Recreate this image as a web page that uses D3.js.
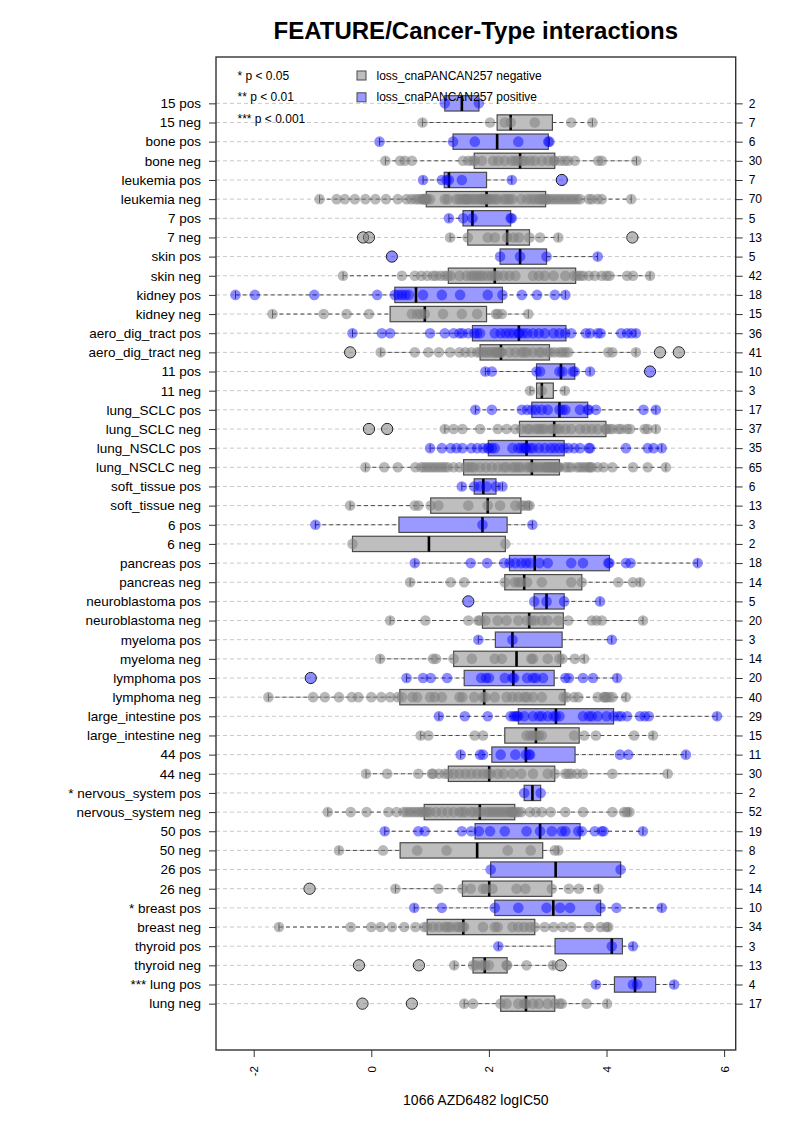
<!DOCTYPE html>
<html><head><meta charset="utf-8">
<script src="https://cdn.jsdelivr.net/npm/d3@7"></script>
<style>
body{margin:0;background:#fff}
text{font-family:"Liberation Sans",Arial,Helvetica,sans-serif}
</style>
</head><body>
<svg id="chart" width="793" height="1122"></svg>
<script>
// ---------------- data (top row first) ----------------
const rowLabels = ["15 pos","15 neg","bone pos","bone neg","leukemia pos","leukemia neg","7 pos","7 neg",
  "skin pos","skin neg","kidney pos","kidney neg","aero_dig_tract pos","aero_dig_tract neg","11 pos","11 neg",
  "lung_SCLC pos","lung_SCLC neg","lung_NSCLC pos","lung_NSCLC neg","soft_tissue pos","soft_tissue neg","6 pos","6 neg",
  "pancreas pos","pancreas neg","neuroblastoma pos","neuroblastoma neg","myeloma pos","myeloma neg","lymphoma pos","lymphoma neg",
  "large_intestine pos","large_intestine neg","44 pos","44 neg","* nervous_system pos","nervous_system neg","50 pos","50 neg",
  "26 pos","26 neg","* breast pos","breast neg","thyroid pos","thyroid neg","*** lung pos","lung neg"];

const rowCounts = [2,7,6,30,7,70,5,13,5,42,18,15,36,41,10,3,17,37,35,65,6,13,3,2,18,14,5,20,3,14,20,40,29,15,11,30,2,52,19,8,2,14,10,34,3,13,4,17];

// [lower whisker, lower hinge, median, upper hinge, upper whisker]
const boxStats = [
  [1.25,1.25,1.54,1.83,1.83],[0.87,2.14,2.37,3.08,3.76],[0.14,1.39,2.14,3.01,3.03],[0.24,1.75,2.53,3.12,4.51],
  [0.88,1.24,1.32,1.96,2.39],[-0.88,0.935,1.96,2.965,4.42],[1.32,1.56,1.72,2.37,2.39],[1.34,1.64,2.31,2.69,3.18],
  [2.19,2.19,2.53,2.98,3.85],[-0.48,1.31,2.10,3.475,4.74],[-2.31,0.40,0.76,2.23,3.30],[-1.68,0.32,0.91,1.96,2.67],
  [-0.32,1.72,2.51,3.31,4.50],[0.16,1.85,2.205,3.03,4.50],[1.94,2.81,3.225,3.46,3.72],[2.70,2.81,2.90,3.095,3.29],
  [1.77,2.73,3.20,3.68,4.84],[1.25,2.52,3.11,3.99,4.84],[1.0,1.99,2.64,3.28,4.94],[-0.10,1.57,2.73,3.20,5.01],
  [1.54,1.75,1.905,2.12,2.23],[-0.36,1.01,1.98,2.545,2.69],[-0.95,0.47,1.89,2.31,2.74],[-0.32,-0.32,0.98,2.28,2.28],
  [0.74,2.35,2.78,4.05,5.55],[0.66,2.27,2.60,3.58,4.57],[2.77,2.77,2.98,3.28,3.89],[0.32,1.89,2.685,3.265,4.62],
  [1.82,2.11,2.40,3.245,4.09],[0.15,1.40,2.47,3.22,3.62],[0.60,1.58,2.415,3.11,4.18],[-1.75,0.485,1.92,3.294,4.33],
  [1.15,2.50,3.14,4.12,5.88],[0.84,2.27,2.80,3.535,4.79],[1.52,2.05,2.63,3.465,5.35],[-0.09,1.31,2.005,3.12,5.04],
  [2.60,2.60,2.74,2.88,2.88],[-0.74,0.90,1.845,2.44,4.39],[0.23,1.765,2.87,3.55,4.62],[-0.55,0.49,1.80,2.915,3.18],
  [2.03,2.03,3.135,4.24,4.24],[0.41,1.55,2.005,3.07,3.86],[0.73,2.1,3.095,3.9,4.94],[-1.57,0.95,1.565,2.78,4.03],
  [2.16,3.125,4.09,4.27,4.45],[1.41,1.73,1.93,2.31,3.09],[3.82,4.135,4.485,4.835,5.15],[1.58,2.2,2.63,3.12,4.01]
];

const rowPoints = [
  [1.25,1.83],
  [0.87,2.02,2.27,2.37,2.78,3.40,3.76],
  [0.14,1.39,1.76,2.50,3.01,3.03],
  [0.24,0.49,0.57,0.69,1.56,1.65,1.72,1.76,1.88,2.07,2.16,2.27,2.39,2.45,2.5,2.56,2.61,2.7,2.78,2.9,3.01,3.1,3.12,3.21,3.29,3.35,3.46,3.86,3.92,4.51],
  [0.88,1.20,1.28,1.32,1.54,2.39,3.24],
  [-0.88,-0.59,-0.45,-0.28,-0.1,0.07,0.25,0.45,0.6,0.68,0.75,0.8,0.85,0.88,0.9,0.92,0.93,0.95,1.0,1.25,1.3,1.45,1.5,1.55,1.6,1.62,1.65,1.7,1.75,1.8,1.85,1.88,1.9,1.93,1.95,1.98,2.0,2.05,2.1,2.15,2.25,2.3,2.35,2.4,2.55,2.65,2.72,2.78,2.85,2.88,2.92,2.95,2.98,3.0,3.05,3.1,3.15,3.2,3.25,3.3,3.35,3.4,3.45,3.5,3.55,3.7,3.75,3.85,3.92,4.42],
  [1.32,1.56,1.72,2.37,2.39],
  [-0.14,-0.04,1.34,1.64,1.98,2.1,2.31,2.42,2.51,2.69,2.87,3.18,4.44],
  [0.35,2.19,2.53,2.98,3.85],
  [-0.48,0.52,0.74,0.85,0.95,1.05,1.1,1.18,1.25,1.3,1.35,1.5,1.62,1.7,1.75,1.8,1.85,1.9,1.98,2.05,2.1,2.15,2.25,2.35,2.45,2.75,2.85,2.95,3.1,3.3,3.45,3.5,3.55,3.6,3.7,3.8,3.92,4.0,4.05,4.35,4.45,4.74],
  [-2.31,-1.98,-0.97,0.10,0.40,0.46,0.52,0.58,0.64,0.88,1.20,1.51,1.98,2.23,2.56,2.82,3.12,3.30],
  [-1.68,-0.81,-0.42,-0.04,0.69,0.78,0.84,0.91,1.22,1.54,1.80,2.12,2.15,2.22,2.67],
  [-0.32,0.18,0.32,1.0,1.25,1.4,1.5,1.55,1.65,1.75,1.8,1.85,2.1,2.2,2.28,2.35,2.42,2.5,2.52,2.58,2.65,2.75,2.85,2.95,3.1,3.2,3.3,3.4,3.65,3.72,3.85,3.9,4.25,4.35,4.42,4.5],
  [-0.36,0.16,0.74,0.97,1.15,1.34,1.5,1.6,1.7,1.8,1.85,1.9,1.95,2.0,2.05,2.1,2.12,2.15,2.18,2.2,2.22,2.35,2.45,2.55,2.6,2.65,2.75,2.85,2.9,3.0,3.05,3.12,3.2,3.25,3.3,3.35,4.03,4.1,4.5,4.91,5.23],
  [1.94,2.05,2.81,2.87,3.2,3.25,3.43,3.46,3.72,4.74],
  [2.70,2.90,3.29],
  [1.77,2.05,2.56,2.65,2.73,2.8,2.9,3.0,3.2,3.25,3.3,3.55,3.68,3.7,3.82,4.63,4.84],
  [-0.04,0.27,1.25,1.4,1.55,1.85,2.15,2.3,2.45,2.55,2.65,2.7,2.8,2.85,2.9,2.95,3.05,3.1,3.15,3.2,3.3,3.4,3.55,3.65,3.75,3.85,3.98,4.0,4.05,4.1,4.2,4.25,4.35,4.4,4.65,4.7,4.84],
  [1.0,1.2,1.35,1.45,1.55,1.7,1.8,1.9,1.98,2.0,2.05,2.1,2.4,2.5,2.55,2.6,2.62,2.64,2.7,2.75,2.85,2.95,3.05,3.12,3.2,3.28,3.35,3.45,3.55,3.7,3.72,4.33,4.7,4.8,4.94],
  [-0.1,0.22,0.45,0.75,0.85,0.9,0.95,1.0,1.05,1.1,1.15,1.2,1.25,1.3,1.4,1.5,1.6,1.65,1.7,1.75,1.85,1.95,2.05,2.15,2.25,2.3,2.4,2.45,2.5,2.55,2.65,2.7,2.73,2.75,2.8,2.85,2.9,2.95,2.98,3.0,3.03,3.05,3.08,3.1,3.12,3.14,3.16,3.18,3.2,3.3,3.35,3.4,3.5,3.55,3.6,3.65,3.7,3.72,3.75,3.85,3.95,4.1,4.45,4.7,5.01],
  [1.54,1.75,1.85,1.96,2.12,2.23],
  [-0.36,0.74,0.80,1.01,1.14,1.65,1.98,2.19,2.45,2.55,2.60,2.66,2.69],
  [-0.95,1.89,2.74],
  [-0.32,2.28],
  [0.74,1.69,1.97,2.26,2.35,2.45,2.55,2.63,2.7,2.86,3.0,3.4,3.6,4.03,4.05,4.33,4.41,5.55],
  [0.66,1.35,1.58,2.27,2.44,2.5,2.55,2.65,2.9,3.4,3.58,4.2,4.45,4.57],
  [1.65,2.77,2.98,3.28,3.89],
  [0.32,0.92,1.65,1.82,1.85,1.94,2.15,2.3,2.5,2.65,2.72,2.78,2.9,3.0,3.18,3.35,3.75,3.83,3.92,4.62],
  [1.82,2.40,4.09],
  [0.15,1.05,1.1,1.4,1.71,2.1,2.22,2.72,2.75,3.0,3.2,3.25,3.46,3.62],
  [-1.03,0.6,0.88,1.01,1.29,1.87,1.95,2.0,2.27,2.4,2.43,2.65,2.75,2.8,2.92,3.3,3.36,3.6,3.77,4.18],
  [-1.75,-0.99,-0.79,-0.55,-0.33,-0.22,0.0,0.17,0.32,0.45,0.52,0.7,0.78,1.0,1.08,1.2,1.5,1.55,1.75,1.9,1.94,2.1,2.3,2.4,2.5,2.6,2.65,2.75,2.9,3.27,3.32,3.45,3.52,3.85,3.95,3.98,4.0,4.05,4.1,4.33],
  [1.15,1.59,1.98,2.37,2.42,2.45,2.48,2.5,2.6,2.75,2.85,2.9,3.0,3.1,3.14,3.2,3.6,3.7,3.75,3.85,4.0,4.12,4.2,4.25,4.35,4.57,4.65,4.72,5.88],
  [0.84,0.97,1.76,1.9,2.64,2.7,2.75,2.8,2.85,2.9,3.45,3.62,3.82,4.47,4.79],
  [1.52,1.85,1.9,2.2,2.45,2.63,2.68,2.7,4.23,4.37,5.35],
  [-0.09,0.27,0.8,1.03,1.05,1.15,1.25,1.31,1.4,1.5,1.6,1.7,1.8,1.9,1.98,2.03,2.15,2.25,2.4,2.55,2.75,3.0,3.12,3.3,3.35,3.4,3.5,3.6,4.1,5.04],
  [2.60,2.88],
  [-0.74,-0.35,-0.08,0.29,0.43,0.55,0.6,0.65,0.7,0.75,0.8,0.85,0.88,0.92,0.95,1.0,1.1,1.2,1.3,1.4,1.5,1.55,1.6,1.7,1.75,1.82,1.87,1.95,2.0,2.05,2.1,2.15,2.2,2.25,2.3,2.35,2.38,2.4,2.42,2.46,2.5,2.55,2.7,2.8,2.9,3.05,3.3,3.6,4.1,4.3,4.35,4.39],
  [0.23,0.8,0.91,1.54,1.7,1.83,2.02,2.27,2.64,2.87,3.07,3.24,3.3,3.52,3.58,3.8,3.92,3.95,4.62],
  [-0.55,0.2,0.78,1.28,2.32,2.71,3.12,3.18],
  [2.03,4.24],
  [-1.05,0.41,1.14,1.55,1.69,1.9,1.95,2.06,2.47,2.62,3.07,3.36,3.53,3.86],
  [0.73,1.2,2.1,2.5,2.98,3.21,3.38,3.9,4.17,4.94],
  [-1.57,-0.35,0.0,0.16,0.35,0.56,0.75,0.9,0.95,1.05,1.15,1.25,1.3,1.35,1.45,1.5,1.55,1.58,1.9,2.1,2.15,2.4,2.5,2.6,2.7,2.78,2.95,3.1,3.25,3.4,3.7,3.9,4.0,4.03],
  [2.16,4.09,4.45],
  [-0.21,0.81,1.41,1.73,1.78,1.88,1.93,2.0,2.3,2.31,2.64,3.09,3.22],
  [3.82,4.45,4.52,5.15],
  [-0.15,0.69,1.58,1.73,2.2,2.3,2.5,2.6,2.63,2.75,2.85,3.0,3.12,3.2,3.24,3.66,4.01]
];

const xTicks = [-2,0,2,4,6];
const xTitle = "1066 AZD6482 logIC50";
const chartTitle = "FEATURE/Cancer-Type interactions";
const pLegend = ["* p < 0.05","** p < 0.01","*** p < 0.001"];
const groupLegend = [["neg","loss_cnaPANCAN257 negative"],["pos","loss_cnaPANCAN257 positive"]];

// ---------------- styles ----------------
const boxFill = {neg:"#bebebe", pos:"#9999ff"};
const ptFill = {neg:"rgba(128,128,128,0.55)", pos:"rgba(0,0,255,0.45)"};
const groupOf = l => l.endsWith("pos") ? "pos" : "neg";

// ---------------- layout ----------------
const svg = d3.select("#chart");
const F = {l:216, r:735.7, t:57, b:1050};
const n = rowLabels.length;
const x = d3.scaleLinear().domain([-2.641, 6.197]).range([F.l, F.r]);
const y = d3.scaleLinear().domain([0.5 - 0.04*n, n + 0.5 + 0.04*n]).range([F.b, F.t]);
const at = i => n - i;
const unit = y(0) - y(1);
const boxH = 0.8*unit, stapH = 0.4*unit;

svg.append("rect").attr("width",793).attr("height",1122).attr("fill","#fff");

// gridlines
svg.append("g").selectAll("line").data(rowLabels).join("line")
  .attr("x1",F.l).attr("x2",F.r)
  .attr("y1",(d,i)=>y(at(i))).attr("y2",(d,i)=>y(at(i)))
  .attr("stroke","#c8c8c8").attr("stroke-width",1).attr("stroke-dasharray","4,3");

const rows = svg.append("g").selectAll("g").data(rowLabels).join("g")
  .attr("transform",(d,i)=>`translate(0,${y(at(i))})`);

rows.each(function(lab,i){
  const g = d3.select(this), s = boxStats[i], grp = groupOf(lab);
  [[s[0],s[1]],[s[3],s[4]]].forEach(([a,b])=>{
    g.append("line").attr("x1",x(a)).attr("x2",x(b)).attr("y1",0).attr("y2",0)
      .attr("stroke","#4a4a4a").attr("stroke-width",1).attr("stroke-dasharray","4,3");
  });
  [s[0],s[4]].forEach(v=>{
    g.append("line").attr("x1",x(v)).attr("x2",x(v)).attr("y1",-stapH/2).attr("y2",stapH/2)
      .attr("stroke","#4a4a4a").attr("stroke-width",1);
  });
  g.append("rect").attr("x",x(s[1])).attr("width",Math.max(0,x(s[3])-x(s[1])))
    .attr("y",-boxH/2).attr("height",boxH)
    .attr("fill",boxFill[grp]).attr("stroke","#4a4a4a").attr("stroke-width",1.2);
  g.append("line").attr("x1",x(s[2])).attr("x2",x(s[2])).attr("y1",-boxH/2).attr("y2",boxH/2)
    .attr("stroke","#000").attr("stroke-width",2.6);
  const outs = rowPoints[i].filter(v => v < s[0]-1e-9 || v > s[4]+1e-9);
  g.selectAll("circle.out").data(outs).join("circle").attr("class","out")
    .attr("cx",v=>x(v)).attr("cy",0).attr("r",5.6)
    .attr("fill","none").attr("stroke","#111").attr("stroke-width",1);
  g.selectAll("circle.pt").data(rowPoints[i]).join("circle").attr("class","pt")
    .attr("cx",v=>x(v)).attr("cy",0).attr("r",5.3)
    .attr("fill",ptFill[grp]).attr("stroke","none");
});

// frame
svg.append("rect").attr("x",F.l).attr("y",F.t).attr("width",F.r-F.l).attr("height",F.b-F.t)
  .attr("fill","none").attr("stroke","#333").attr("stroke-width",1.4);

// axes
const ax = svg.append("g").attr("transform",`translate(0,${F.b})`)
  .call(d3.axisBottom(x).tickValues(xTicks).tickSize(7).tickSizeOuter(0).tickFormat(d3.format("d")));
ax.select(".domain").remove();
ax.selectAll("line").attr("stroke","#333");
ax.selectAll("text").attr("transform","rotate(-90)").attr("x",-16).attr("y",0).attr("dy","0.35em")
  .attr("text-anchor","end").attr("font-size","11.5px").attr("fill","#000")
  .text(d => d < 0 ? "-" + Math.abs(d) : d);

const ay = svg.append("g").attr("transform",`translate(${F.l},0)`)
  .call(d3.axisLeft(y).tickValues(rowLabels.map((d,i)=>at(i))).tickSize(7).tickPadding(8)
    .tickFormat(v => rowLabels[n - v]));
ay.select(".domain").remove();
ay.selectAll("line").attr("stroke","#333");
ay.selectAll("text").attr("font-size","13.5px").attr("fill","#000").attr("font-family","'Liberation Sans',Arial,sans-serif");

const ar = svg.append("g").attr("transform",`translate(${F.r},0)`)
  .call(d3.axisRight(y).tickValues(rowLabels.map((d,i)=>at(i))).tickSize(7).tickPadding(6)
    .tickFormat(v => rowCounts[n - v]));
ar.select(".domain").remove();
ar.selectAll("line").attr("stroke","#333");
ar.selectAll("text").attr("font-size","12px").attr("fill","#000").attr("font-family","'Liberation Sans',Arial,sans-serif");

// titles
svg.append("text").attr("x",(F.l+F.r)/2).attr("y",39).attr("text-anchor","middle")
  .attr("font-size","24px").attr("font-weight","bold").text(chartTitle);
svg.append("text").attr("x",(F.l+F.r)/2).attr("y",1105).attr("text-anchor","middle")
  .attr("font-size","14px").text(xTitle);

// legend
const lg = svg.append("g");
lg.selectAll("text.p").data(pLegend).join("text").attr("class","p")
  .attr("x",237.5).attr("y",(d,i)=>79.5+i*21.8).attr("font-size","12px").text(d=>d);
lg.selectAll("rect.k").data(groupLegend).join("rect").attr("class","k")
  .attr("x",357).attr("y",(d,i)=>71+i*21.8).attr("width",9).attr("height",9)
  .attr("fill",d=>boxFill[d[0]]).attr("stroke","#4a4a4a").attr("stroke-width",1);
lg.selectAll("text.k").data(groupLegend).join("text").attr("class","k")
  .attr("x",376.5).attr("y",(d,i)=>79.5+i*21.8).attr("font-size","12px").text(d=>d[1]);
</script>
</body></html>
